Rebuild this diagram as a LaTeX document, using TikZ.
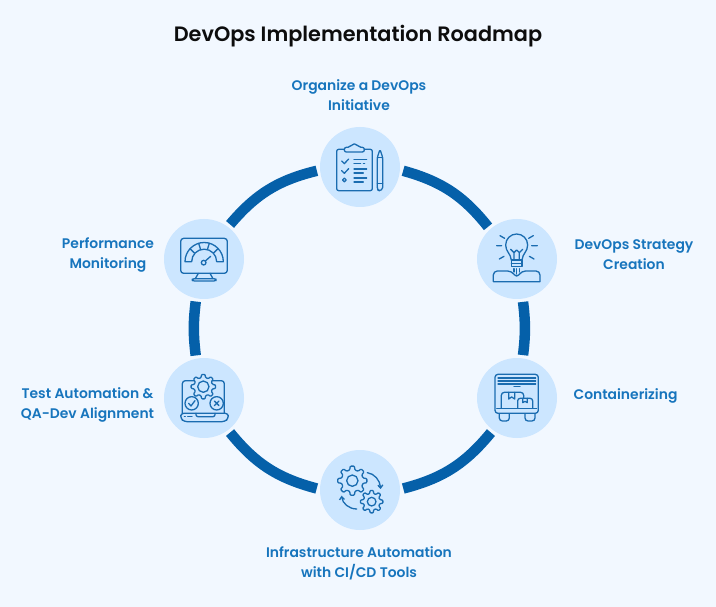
\documentclass[tikz,border=0pt]{standalone}
\usepackage{fontspec}
\setmainfont{Poppins}[BoldFont={Poppins SemiBold}]
\usetikzlibrary{arrows.meta}
\definecolor{pagebg}{HTML}{F2F8FF}
\definecolor{disc}{HTML}{CCE6FF}
\definecolor{ringc}{HTML}{0560A9}
\definecolor{labelc}{HTML}{1775BD}
\definecolor{iconc}{HTML}{1A6CB0}
\tikzset{
  station/.style={circle,fill=disc,minimum size=80pt,inner sep=0pt,outer sep=3.3pt},
  ringseg/.style={draw=ringc,line width=10.5pt},
  lab/.style={text=labelc,font=\fontsize{13.9pt}{20pt}\selectfont\bfseries,align=center,inner sep=0pt},
  titlelab/.style={text=black!95,font=\fontsize{20.8pt}{26pt}\selectfont\bfseries,inner sep=0pt},
  ic/.style={draw=iconc,line width=1.3pt,line cap=round,line join=round},
  zoomed/.style={x=0.3333pt,y=-0.3333pt},
}
\newcommand{\gearpath}[5]{% cx cy outer inner hole
  \begin{scope}[shift={(#1,#2)}]
    \filldraw[ic,fill=disc,rounded corners=0.8pt] (-14:#4)
      \foreach \a in {0,45,...,315}{ -- ({\a-14}:#4) -- ({\a-8}:#3) -- ({\a+8}:#3) -- ({\a+14}:#4) } -- cycle;
    \draw[ic] (0,0) circle[radius=#5];
  \end{scope}}
\begin{document}
\begin{tikzpicture}[x=1pt,y=-1pt]
\useasboundingbox (0,0) rectangle (716,607);
\fill[pagebg] (0,0) rectangle (716,607);
\node[titlelab] (title) at (358,36.5) {DevOps Implementation Roadmap};
\node[station] (s1) at (360,167) {};
\node[station] (s2) at (517,259) {};
\node[station] (s3) at (517,398) {};
\node[station] (s4) at (360,490) {};
\node[station] (s5) at (204,398) {};
\node[station] (s6) at (204,259) {};
\draw[ringseg] (s1.-5) to[bend left=18] (s2.132);
\draw[ringseg] (s2.-82) to[bend left=7] (s3.82);
\draw[ringseg] (s3.-127) to[bend left=18] (s4.2);
\draw[ringseg] (s4.178) to[bend left=18] (s5.-53);
\draw[ringseg] (s5.101) to[bend left=7] (s6.-101);
\draw[ringseg] (s6.53) to[bend left=18] (s1.185);
\node[lab] (l1) at (359,95.5) {Organize a DevOps\\Initiative};
\node[lab] (l2) at (634,255) {DevOps Strategy\\Creation};
\node[lab] (l3) at (625.5,396) {Containerizing};
\node[lab] (l4) at (359,563) {Infrastructure Automation\\with CI/CD Tools};
\node[lab] (l5) at (87.5,405) {Test Automation \&\\QA-Dev Alignment};
\node[lab] (l6) at (108,255) {Performance\\Monitoring};
% icon 1
\begin{scope}[shift={(310,120)},zoomed]
  \draw[ic,rounded corners=2pt] (103,88) -- (80,88) -- (80,212) -- (187,212) -- (187,88) -- (163,88);
  \draw[ic,rounded corners=2pt] (103,96) -- (103,82) -- (120,82) -- (126,72) -- (140,72) -- (147,82) -- (163,82) -- (163,96) -- cycle;
  \draw[ic] (95,123) -- (103,131) -- (116,117);
  \draw[ic] (95,152) -- (103,160) -- (116,146);
  \draw[ic] (103,180) circle[radius=5.5];
  \draw[ic] (132,118) -- (170,118) (132,130) -- (152,130) (160,130) -- (164,130);
  \draw[ic] (132,147) -- (170,147) (132,159) -- (160,159);
  \draw[ic] (132,174) -- (170,174) (132,186) -- (160,186);
  \draw[ic,rounded corners=1.5pt] (202,112) -- (210,88) -- (218,112) -- (218,207) -- (211,212) -- (205,212) -- (202,207) -- cycle;
  \draw[ic] (202,112) -- (218,112) (202,190) -- (218,190);
\end{scope}
% icon 2
\begin{scope}[shift={(470,210)},zoomed]
  \draw[ic] (124,150) .. controls (122,130) and (107,125) .. (107,105) arc[start angle=180,end angle=360,radius=33] .. controls (173,125) and (158,130) .. (156,150);
  \draw[ic] (124,150) -- (156,150) (124,150) -- (124,170) -- (156,170) -- (156,150) (124,160) -- (156,160);
  \draw[ic] (132,150) -- (132,128) -- (122,118) (148,150) -- (148,128) -- (158,118) (132,128) -- (140,120) -- (148,128);
  \draw[ic] (132,176) -- (132,186) (140,176) -- (140,192) (148,176) -- (148,186);
  \draw[ic] (70,215) -- (70,197) [rounded corners=4pt] -- (70,183) -- (125,183) -- (140,204) -- (155,183) -- (210,183) [sharp corners] -- (210,215) -- cycle;
  \draw[ic] (80,107) -- (95,107) (185,107) -- (202,107) (90,77) -- (104,85) (190,77) -- (176,85) (88,147) -- (102,139) (192,147) -- (178,139);
\end{scope}
% icon 3
\begin{scope}[shift={(470,350)},zoomed]
  \draw[ic,rounded corners=3pt] (75,73) rectangle (205,190);
  \draw[ic] (84,84) -- (197,84) (84,93) -- (197,93) (84,102) -- (197,102) (132,110) -- (150,110);
  \draw[ic,rounded corners=3pt] (94,175) -- (94,127) -- (161,127) -- (161,143);
  \draw[ic] (116,127) -- (116,147) -- (125,141) -- (134,147) -- (134,127);
  \draw[ic,rounded corners=2.5pt] (143,175) -- (143,145) -- (188,145) -- (188,175);
  \draw[ic] (158,145) -- (158,158) -- (165,154) -- (172,158) -- (172,145);
  \draw[ic] (80,175) -- (200,175);
  \draw[ic,rounded corners=3pt] (88,191) -- (88,213) -- (118,213) -- (118,191);
  \draw[ic,rounded corners=3pt] (165,191) -- (165,213) -- (195,213) -- (195,191);
\end{scope}
% icon 4
\begin{scope}[shift={(315,445)},zoomed]
  \gearpath{112}{107}{44}{33}{17}
  \gearpath{170}{170}{34}{25}{13}
  \draw[ic,-{Straight Barb[length=3pt,width=5pt]}] (157,83) .. controls (178,86) and (195,105) .. (197,132);
  \draw[ic,-{Straight Barb[length=3pt,width=5pt]}] (125,192) .. controls (102,192) and (82,175) .. (80,152);
\end{scope}
% icon 5
\begin{scope}[shift={(160,350)},zoomed]
  \draw[ic,rounded corners=3pt] (67,190) -- (67,92) -- (193,92) -- (193,190);
  \gearpath{130}{110}{37}{28}{17}
  \filldraw[ic,fill=disc] (95,160) circle[radius=20];
  \filldraw[ic,fill=disc] (170,160) circle[radius=20];
  \draw[ic] (86,160) -- (93,168) -- (105,152);
  \draw[ic] (163,153) -- (177,167) (177,153) -- (163,167);
  \draw[ic,rounded corners=3pt] (62,190) -- (205,190) -- (205,205) -- (195,215) -- (72,215) -- (62,205) -- cycle;
  \draw[ic,rounded corners=2pt] (108,190) -- (108,200) -- (165,200) -- (165,190);
  \draw[ic] (73,199) -- (76,199) (83,199) -- (96,199);
\end{scope}
% icon 6
\begin{scope}[shift={(160,215)},zoomed]
  \draw[ic,rounded corners=3pt] (62,70) rectangle (202,175);
  \draw[ic] (115,175) -- (106,191) (150,175) -- (159,191);
  \draw[ic,rounded corners=2pt] (97,191) rectangle (168,198);
  \draw[ic] (75,140) arc[start angle=180,end angle=360,radius=57.5] -- (170,140) arc[start angle=360,end angle=180,radius=37.5] -- cycle;
  \draw[ic] (116,85) -- (122,104) (148,85) -- (142,104) (90,101) -- (103,114) (174,101) -- (161,114);
  \draw[ic] (131,143) circle[radius=7];
  \draw[ic] (136,138) -- (152,124);
\end{scope}
\end{tikzpicture}
\end{document}
